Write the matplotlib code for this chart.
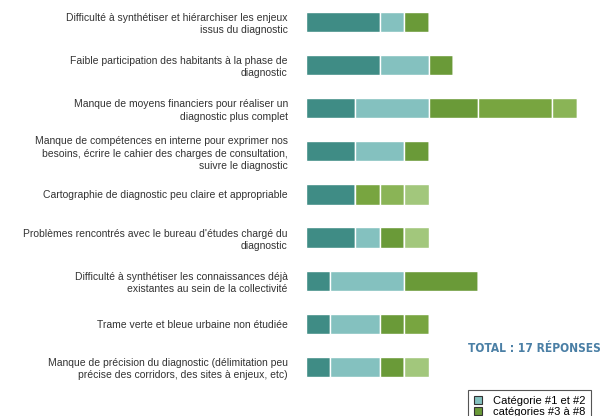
import numpy as np
import matplotlib.pyplot as plt
from matplotlib.patches import Patch

labels = [
    'Difficulté à synthétiser et hiérarchiser les enjeux\nissus du diagnostic',
    'Faible participation des habitants à la phase de\ndiagnostic',
    'Manque de moyens financiers pour réaliser un\ndiagnostic plus complet',
    'Manque de compétences en interne pour exprimer nos\nbesoins, écrire le cahier des charges de consultation,\nsuivre le diagnostic',
    'Cartographie de diagnostic peu claire et appropriable',
    "Problèmes rencontrés avec le bureau d'études chargé du\ndiagnostic",
    'Difficulté à synthétiser les connaissances déjà\nexistantes au sein de la collectivité',
    'Trame verte et bleue urbaine non étudiée',
    'Manque de précision du diagnostic (délimitation peu\nprécise des corridors, des sites à enjeux, etc)',
]

# nombre de réponses par catégorie (#1 .. #6)
cat1 = [3, 3, 2, 2, 2, 2, 1, 1, 1]
cat2 = [1, 2, 3, 2, 0, 1, 3, 2, 2]
cat3 = [1, 1, 2, 1, 0, 1, 3, 1, 1]
cat4 = [0, 0, 3, 0, 1, 0, 0, 1, 0]
cat5 = [0, 0, 1, 0, 1, 0, 0, 0, 0]
cat6 = [0, 0, 0, 0, 1, 1, 0, 0, 1]

couleurs = ['#3f8c85', '#84c1bf', '#6a9a38', '#78a540', '#8ab456', '#a2c77c']

fig = plt.figure(figsize=(6.08, 4.16), dpi=100)
ax = fig.add_axes([0.503, 0.0, 0.497, 1.0])

y = np.arange(len(labels))
gauche = np.zeros(len(labels))
for vals, c in zip([cat1, cat2, cat3, cat4, cat5, cat6], couleurs):
    vals = np.array(vals)
    ax.barh(y, vals, left=gauche, height=0.47, color=c, edgecolor='white', linewidth=1)
    gauche += vals

ax.set_xlim(0, 12.28)
ax.set_ylim(9.14, -0.51)
ax.set_yticks(y)
ax.set_yticklabels(labels, fontsize=7.5, family='Liberation Sans', color='#333333',
                   linespacing=1.3, ha='right')
ax.tick_params(axis='y', length=0, pad=13)
ax.set_xticks([])
for s in ax.spines.values():
    s.set_visible(False)

fig.text(468 / 608, 1 - 348 / 416, 'TOTAL : 17 RÉPONSES', fontsize=8.6, fontweight='bold',
         fontstretch='condensed', family='DejaVu Sans', color='#4a7fa5', va='center')

poignees = [Patch(facecolor='#84c1bf', edgecolor='#333333', linewidth=0.8),
            Patch(facecolor='#6a9a38', edgecolor='#333333', linewidth=0.8)]
leg = fig.legend(poignees, ['Catégorie #1 et #2', 'catégories #3 à #8'],
                 loc='upper left', bbox_to_anchor=(468 / 608, 1 - 390 / 416),
                 prop={'family': 'Liberation Sans', 'size': 8}, fancybox=False,
                 edgecolor='#555555', framealpha=1, handlelength=0.75, handleheight=0.75,
                 handletextpad=1.0, labelspacing=0.1, borderpad=0.5, borderaxespad=0)
leg.get_frame().set_linewidth(0.8)

fig.savefig('out.png', dpi=100)
